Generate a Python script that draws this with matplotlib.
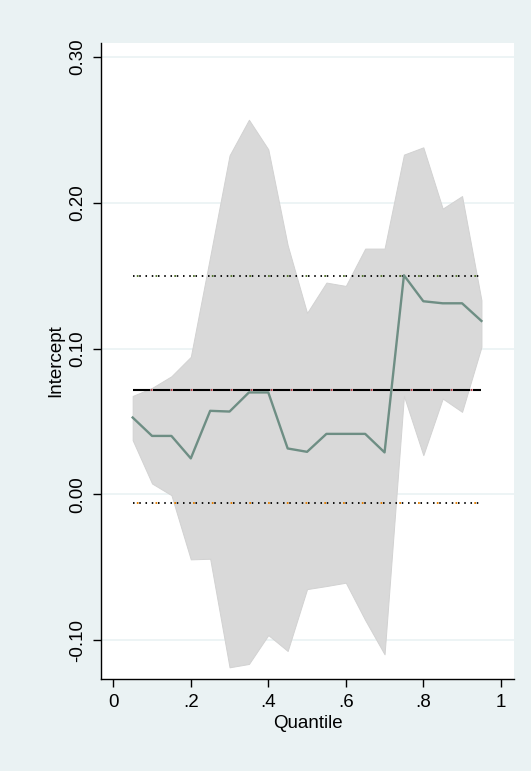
import matplotlib
matplotlib.use("Agg")
import matplotlib.pyplot as plt
import numpy as np

plt.rcParams['font.family'] = ['Liberation Sans', 'DejaVu Sans']
plt.rcParams['lines.scale_dashes'] = False

# Quantile regression estimates of the intercept
quantiles = [0.05, 0.10, 0.15, 0.20, 0.25, 0.30, 0.35, 0.40, 0.45, 0.50,
             0.55, 0.60, 0.65, 0.70, 0.75, 0.80, 0.85, 0.90, 0.95]
coef = [0.0527, 0.0401, 0.0401, 0.0247, 0.0573, 0.0568, 0.0699, 0.0699, 0.0315, 0.0292,
        0.0415, 0.0415, 0.0415, 0.0288, 0.1502, 0.1324, 0.1310, 0.1310, 0.1189]
ci_upper = [0.0675, 0.0730, 0.0810, 0.0943, 0.1630, 0.2324, 0.2568, 0.2365, 0.1708, 0.1244,
            0.1452, 0.1429, 0.1685, 0.1685, 0.2329, 0.2379, 0.1959, 0.2045, 0.1331]
ci_lower = [0.0372, 0.0075, -0.0005, -0.0445, -0.0441, -0.1185, -0.1162, -0.0964, -0.1073, -0.0649,
            -0.0628, -0.0605, -0.0861, -0.1096, 0.0675, 0.0269, 0.0657, 0.0566, 0.1011]

# OLS estimate and its confidence bounds
ols_coef = 0.0719
ols_upper = 0.1500
ols_lower = -0.0057

x_ticks = [0, 0.2, 0.4, 0.6, 0.8, 1.0]
x_ticklabels = ["0", ".2", ".4", ".6", ".8", "1"]
y_ticks = [-0.10, 0.00, 0.10, 0.20, 0.30]
y_ticklabels = ["-0.10", "0.00", "0.10", "0.20", "0.30"]

bg = "#EAF2F3"
fig = plt.figure(figsize=(5.31, 7.71), dpi=100, facecolor=bg)
ax = fig.add_axes([101/531, 1-679/771, (514-101)/531, (679-43)/771])
ax.set_facecolor("white")

for yv in y_ticks:
    ax.axhline(yv, color=bg, lw=1.2, zorder=0)

ax.fill_between(quantiles, ci_lower, ci_upper, facecolor="#D9D9D9",
                edgecolor="#D2D2D2", lw=0.7, zorder=1)

qmin, qmax = quantiles[0], quantiles[-1]

# OLS line: red underlay with black long dashes on top
ax.plot([qmin, qmax], [ols_coef, ols_coef], color="#B0303C", lw=1.5,
        linestyle=(1.4, (1.0, 13.4)), zorder=2)
ax.plot([qmin, qmax], [ols_coef, ols_coef], color="black", lw=1.5,
        linestyle=(0, (12.5, 1.9)), zorder=3)

# OLS confidence bounds: coloured underlay with black dots on top
for yv, col in [(ols_upper, "#55752F"), (ols_lower, "#E37E00")]:
    ax.plot([qmin, qmax], [yv, yv], color=col, lw=1.4,
            linestyle=(10.75, (1.2, 12.3)), zorder=2)
    ax.plot([qmin, qmax], [yv, yv], color="black", lw=1.3,
            linestyle=(0, (1.1, 3.4)), zorder=3)

ax.plot(quantiles, coef, color="#6E8E84", lw=1.7, zorder=4)

ax.set_xlim(-0.0317, 1.034)
ax.set_ylim(-0.1265, 0.3094)
ax.set_xticks(x_ticks)
ax.set_xticklabels(x_ticklabels)
ax.set_yticks(y_ticks)
ax.set_yticklabels(y_ticklabels, rotation=90, va="center")

for s in ["top", "right"]:
    ax.spines[s].set_visible(False)
for s in ["left", "bottom"]:
    ax.spines[s].set_color("black")
    ax.spines[s].set_linewidth(1.0)

ax.tick_params(axis="both", direction="out", length=5.5, width=1.0,
               color="black", labelsize=13.5, pad=5)
ax.set_xlabel("Quantile", fontsize=13.5, labelpad=3.5)
ax.set_ylabel("Intercept", fontsize=13.5, labelpad=4)

fig.savefig("out.png", dpi=100, facecolor=bg)
